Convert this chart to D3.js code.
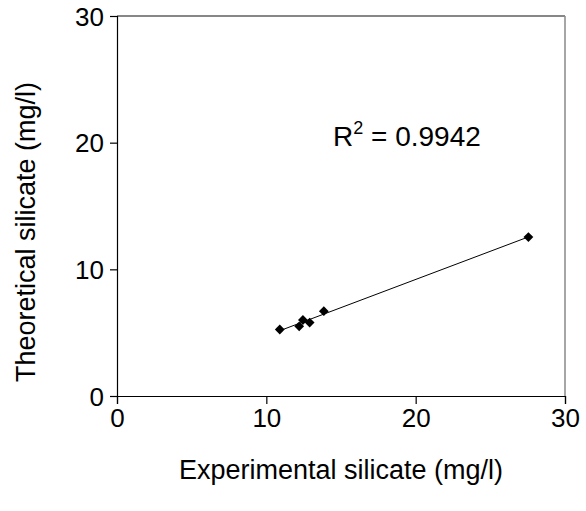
<!DOCTYPE html>
<html>
<head>
<meta charset="utf-8">
<script src="https://cdn.jsdelivr.net/npm/d3@7"></script>
<style>
  body { margin: 0; background: #fff; }
  svg text { font-family: "Liberation Sans", Arial, sans-serif; fill: #000; }
</style>
</head>
<body>
<svg width="586" height="511"></svg>
<script>
// data
const experimental = [10.9, 12.2, 12.45, 12.9, 13.85, 27.55];
const theoretical  = [5.25, 5.5, 6.0, 5.8, 6.7, 12.55];
const xTicks = [0, 10, 20, 30];
const yTicks = [0, 10, 20, 30];
const rSquared = "0.9942";

const points = experimental.map((d, i) => ({x: d, y: theoretical[i]}));

const svg = d3.select("svg");
const plotL = 117, plotR = 565, plotT = 16, plotB = 396;

const x = d3.scaleLinear().domain([0, 30]).range([plotL, plotR]);
const y = d3.scaleLinear().domain([0, 30]).range([plotB, plotT]);

// plot frame: top black, right grey
svg.append("line")
  .attr("x1", plotL).attr("x2", plotR).attr("y1", plotT).attr("y2", plotT)
  .attr("stroke", "#111").attr("stroke-width", 1.2);
svg.append("line")
  .attr("x1", plotR).attr("x2", plotR).attr("y1", plotT).attr("y2", plotB)
  .attr("stroke", "#888").attr("stroke-width", 1.5);

// axes
const xAxis = svg.append("g")
  .attr("transform", `translate(0,${plotB})`)
  .call(d3.axisBottom(x).tickValues(xTicks).tickSize(8).tickPadding(5));
const yAxis = svg.append("g")
  .attr("transform", `translate(${plotL},0)`)
  .call(d3.axisLeft(y).tickValues(yTicks).tickSize(7).tickPadding(6));

[xAxis, yAxis].forEach(g => {
  g.attr("font-family", null);
  g.select(".domain").attr("stroke", "#000").attr("stroke-width", 1.2);
  g.selectAll(".tick line").attr("stroke", "#000").attr("stroke-width", 1.2);
  g.selectAll("text").style("font-size", "26px").attr("fill", "#000");
});
yAxis.selectAll("text").attr("dy", "0.35em");

// least squares trend line
const mx = d3.mean(points, d => d.x), my = d3.mean(points, d => d.y);
const slope = d3.sum(points, d => (d.x - mx) * (d.y - my)) / d3.sum(points, d => (d.x - mx) ** 2);
const icept = my - slope * mx;
const [x0, x1] = d3.extent(points, d => d.x);
svg.append("line")
  .attr("x1", x(x0)).attr("y1", y(icept + slope * x0))
  .attr("x2", x(x1)).attr("y2", y(icept + slope * x1))
  .attr("stroke", "#000").attr("stroke-width", 1);

// diamond markers
svg.selectAll(".pt")
  .data(points)
  .enter()
  .append("path")
  .attr("class", "pt")
  .attr("d", d3.symbol().type(d3.symbolSquare).size(48))
  .attr("transform", d => `translate(${x(d.x)},${y(d.y)}) rotate(45)`)
  .attr("fill", "#000");

// R squared label
const r2 = svg.append("text")
  .attr("x", 333).attr("y", 146)
  .style("font-size", "28px");
r2.append("tspan").text("R");
r2.append("tspan").text("2").style("font-size", "18px").attr("dy", "-12");
r2.append("tspan").text(" = " + rSquared).attr("dy", "12");

// axis titles
svg.append("text")
  .attr("x", 341).attr("y", 479)
  .attr("text-anchor", "middle")
  .style("font-size", "27px")
  .text("Experimental silicate (mg/l)");
svg.append("text")
  .attr("transform", `translate(35,232) rotate(-90)`)
  .attr("text-anchor", "middle")
  .style("font-size", "27px")
  .text("Theoretical silicate (mg/l)");
</script>
</body>
</html>
